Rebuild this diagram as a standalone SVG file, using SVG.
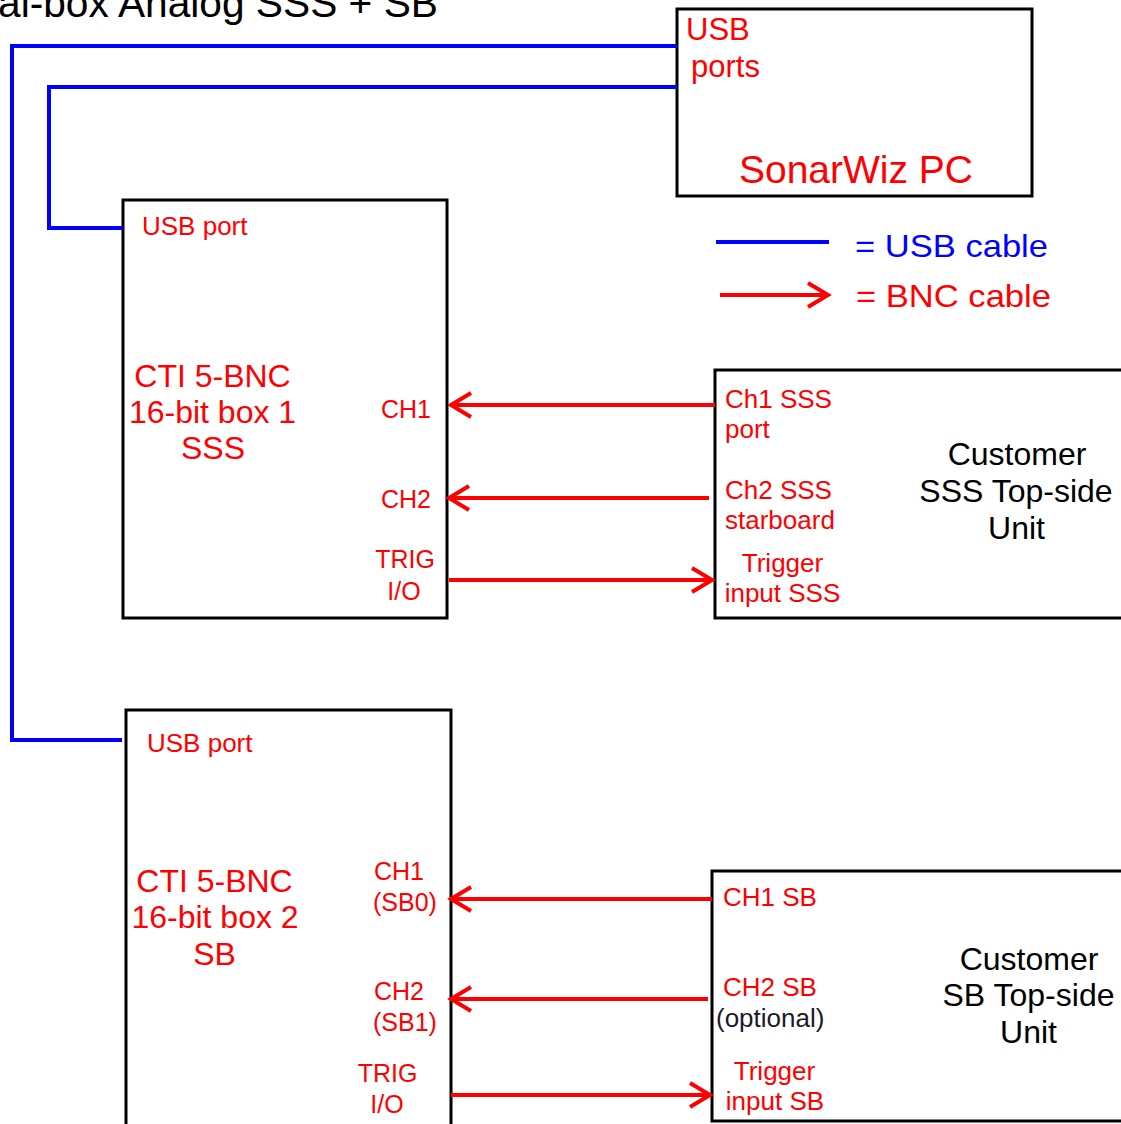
<svg xmlns="http://www.w3.org/2000/svg" width="1121" height="1124" viewBox="0 0 1121 1124">
<style>
.box{fill:#fff;stroke:#000;stroke-width:3}
.usb{fill:none;stroke:#0000ff;stroke-width:4}
.bnc{fill:none;stroke:#ff0000;stroke-width:4}
text{font-family:"Liberation Sans",Arial,sans-serif}
.r{fill:#ff0000}
.k{fill:#000}
.s{font-size:26px}
.l{font-size:25px}
.p{font-size:26px}
.m{font-size:32px}
.c{text-anchor:middle}
</style>
<defs>
<marker id="ah" markerUnits="userSpaceOnUse" markerWidth="30" markerHeight="30" viewBox="-26 -15 30 30" refX="0" refY="0" orient="auto">
<path d="M-20,-12 L0,0 L-20,12" fill="none" stroke="#ff0000" stroke-width="4"/>
</marker>
</defs>
<rect width="1121" height="1124" fill="#fff"/>
<text x="-2" y="17" font-size="40.7" fill="#000">al-box Analog SSS + SB</text>

<g id="pc">
<rect class="box" x="677" y="9" width="355" height="187"/>
<text class="r" x="686" y="40" font-size="31">USB</text>
<text class="r" x="691" y="77" font-size="31">ports</text>
<text class="r c" x="856" y="183" font-size="39">SonarWiz PC</text>
</g>

<g id="box1">
<rect class="box" x="123" y="200" width="324" height="418"/>
<text class="r p" x="142" y="235">USB port</text>
<text class="r m c" x="212.5" y="387">CTI 5-BNC</text>
<text class="r m c" x="212.5" y="423">16-bit box 1</text>
<text class="r m c" x="213" y="459">SSS</text>
<text class="r l" x="381" y="418">CH1</text>
<text class="r l" x="381" y="508">CH2</text>
<text class="r l c" x="405" y="568">TRIG</text>
<text class="r l c" x="404" y="600">I/O</text>
</g>

<g id="sss">
<rect class="box" x="715" y="370" width="420" height="248"/>
<text class="r s" x="725" y="408">Ch1 SSS</text>
<text class="r s" x="725" y="438">port</text>
<text class="r s" x="725" y="499">Ch2 SSS</text>
<text class="r s" x="725" y="529">starboard</text>
<text class="r s c" x="782.5" y="572">Trigger</text>
<text class="r s c" x="782.5" y="602">input SSS</text>
<text class="k m c" x="1017" y="465">Customer</text>
<text class="k m c" x="1016" y="502">SSS Top-side</text>
<text class="k m c" x="1016.5" y="539">Unit</text>
</g>

<g id="box2">
<rect class="box" x="126" y="710" width="325" height="430"/>
<text class="r p" x="147" y="752">USB port</text>
<text class="r m c" x="214.5" y="892">CTI 5-BNC</text>
<text class="r m c" x="215" y="928">16-bit box 2</text>
<text class="r m c" x="214.5" y="965">SB</text>
<text class="r l" x="374" y="880">CH1</text>
<text class="r l" x="373" y="911">(SB0)</text>
<text class="r l" x="374" y="1000">CH2</text>
<text class="r l" x="373" y="1031">(SB1)</text>
<text class="r l c" x="387.5" y="1082">TRIG</text>
<text class="r l c" x="387" y="1113">I/O</text>
</g>

<g id="sb">
<rect class="box" x="712" y="871" width="420" height="250"/>
<text class="r s" x="723" y="906">CH1 SB</text>
<text class="r s" x="723" y="996">CH2 SB</text>
<text class="s" x="716" y="1027" fill="#1a1a2a">(optional)</text>
<text class="r s c" x="774.5" y="1080">Trigger</text>
<text class="r s c" x="775" y="1110">input SB</text>
<text class="k m c" x="1029" y="970">Customer</text>
<text class="k m c" x="1028.5" y="1006">SB Top-side</text>
<text class="k m c" x="1028.5" y="1043">Unit</text>
</g>

<g id="legend">
<line class="usb" x1="716" y1="242" x2="829" y2="242"/>
<text x="855" y="257" font-size="32" fill="#0000ff" textLength="193" lengthAdjust="spacingAndGlyphs">= USB cable</text>
<line class="bnc" x1="720" y1="295" x2="828" y2="295" marker-end="url(#ah)"/>
<text class="r" x="856" y="307" font-size="32" textLength="195" lengthAdjust="spacingAndGlyphs">= BNC cable</text>
</g>

<g id="connectors">
<polyline class="usb" points="677,46 12,46 12,740 122,740"/>
<polyline class="usb" points="677,87 49,87 49,228 123,228"/>
<line class="bnc" x1="715" y1="405" x2="451" y2="405" marker-end="url(#ah)"/>
<line class="bnc" x1="709" y1="498" x2="449" y2="498" marker-end="url(#ah)"/>
<line class="bnc" x1="449" y1="580" x2="712" y2="580" marker-end="url(#ah)"/>
<line class="bnc" x1="712" y1="899" x2="451" y2="899" marker-end="url(#ah)"/>
<line class="bnc" x1="708" y1="999" x2="451" y2="999" marker-end="url(#ah)"/>
<line class="bnc" x1="451" y1="1095" x2="710" y2="1095" marker-end="url(#ah)"/>
</g>
</svg>
